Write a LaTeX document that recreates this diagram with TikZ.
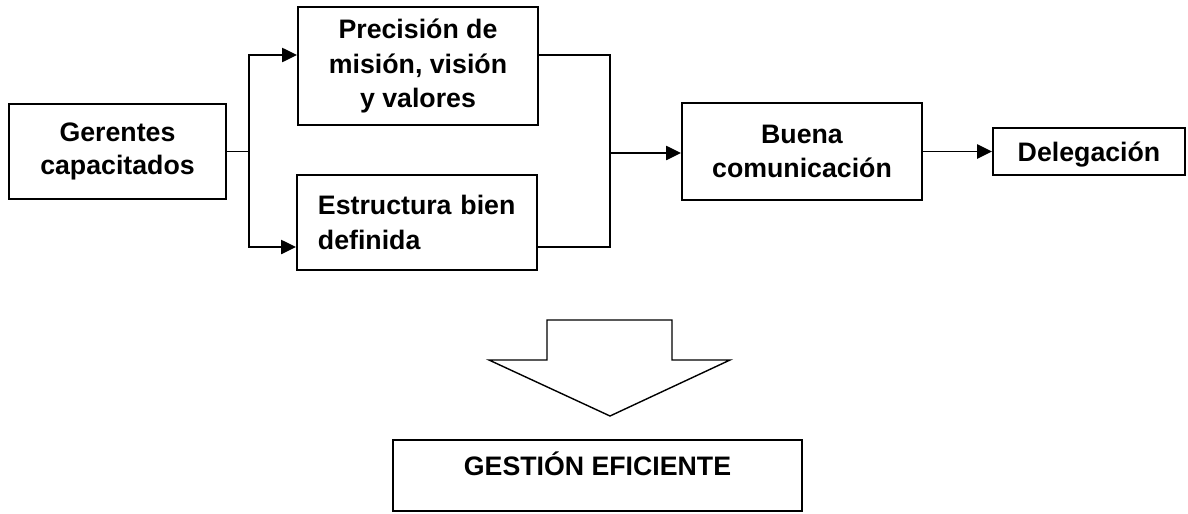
\documentclass[tikz,border=0pt]{standalone}
\usepackage{fontspec}
\setmainfont{Liberation Sans}
\usetikzlibrary{arrows.meta}
\begin{document}
\begin{tikzpicture}[x=0.025cm,y=-0.025cm,
  caja/.style={draw,line width=1.4pt,font=\fontsize{19}{24.5}\selectfont\bfseries,align=center,inner sep=0pt},
  linea/.style={line width=1.4pt},
  flecha/.style={line width=1.4pt,-{Triangle[length=0.37cm,width=0.35cm]}}]
\useasboundingbox (0,0) rectangle (1188,513);
\node[caja,minimum width=5.425cm,minimum height=2.375cm,font=\fontsize{19}{23}\selectfont\bfseries] (ger) at (117.5,151.5) {Gerentes\\capacitados};
\node[caja,minimum width=6cm,minimum height=2.95cm] (pre) at (418,66) {Precisión de\\misión, visión\\y valores};
\node[caja,minimum width=6cm,minimum height=2.375cm,align=left,text width=4.95cm] (est) at (417,222.5) {Estructura bien\\definida};
\node[caja,minimum width=6cm,minimum height=2.425cm] (bue) at (802,151.5) {Buena\\comunicación};
\node[caja,minimum width=4.8cm,minimum height=1.175cm,text depth=0pt] (del) at (1089,151.5) {Delegación};
\node[caja,minimum width=10.225cm,minimum height=1.775cm,text height=0.6cm,text depth=0.62cm] (ges) at (597.5,475.5) {GESTIÓN EFICIENTE};

\coordinate (c1) at (249,151.5);
\coordinate (c2) at (610,153);
\coordinate (p1) at (249,55);
\coordinate (p2) at (249,247);

\draw[linea] (ger.east) -- (c1);
\draw[flecha] (c1) -- (p1) -- (p1 -| pre.west);
\draw[flecha] (c1) -- (p2) -- (p2 -| est.west);
\draw[linea] (p1 -| pre.east) -| (c2);
\draw[linea] (p2 -| est.east) -| (c2);
\draw[flecha] (c2) -- (c2 -| bue.west);
\draw[flecha] (bue.east) -- (bue.east -| del.west);

% flecha grande
\draw[line width=1pt] (547,360) -- (547,320) -- (672,320) -- (672,360) -- (730,360) -- (610,416) -- (489,360) -- cycle;
\end{tikzpicture}
\end{document}
